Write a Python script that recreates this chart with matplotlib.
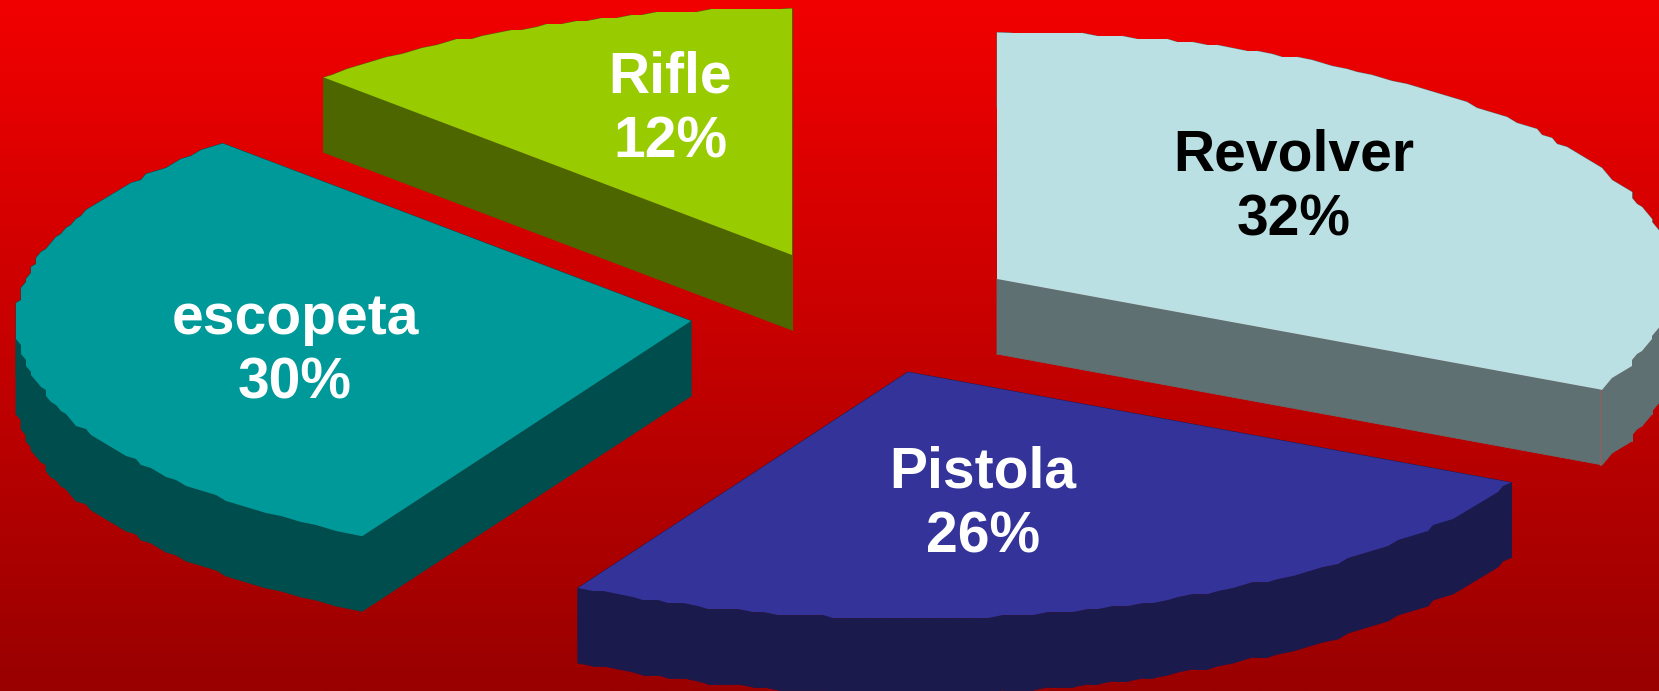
import numpy as np
import matplotlib
matplotlib.use("Agg")
import matplotlib.pyplot as plt
from matplotlib.collections import PolyCollection
from matplotlib.colors import LinearSegmentedColormap

categories = ["Revolver", "Pistola", "escopeta", "Rifle"]
# read from the slice edges, the labels show them rounded
shares = [32.4, 25.7, 29.7, 12.2]

# where each exploded slice has its tip, in picture pixels
tips = [(997, 279), (908, 372), (691, 321), (792, 255)]
top_colors = ["#BBE0E3", "#333399", "#009999", "#99CC00"]
side_colors = ["#5F7072", "#1A1A4D", "#004D4D", "#4D6600"]
text_colors = ["black", "white", "white", "white"]
label_pos = [(1294, 188), (983, 505), (295, 351), (670, 110)]

RX, RY = 675, 246.5
DEPTH = 75


def rim(tip, a0, a1):
    # the rim of the original is rough, so snap the points on a coarse grid
    ang = np.radians(np.arange(a0, a1, 1.2))
    ang = np.append(ang, np.radians(a1))
    x = RX * np.sin(ang)
    y = -RY * np.cos(ang)
    x[1:-1] = np.round(x[1:-1] / 5) * 5
    y[1:-1] = np.round(y[1:-1] / 3) * 3
    return tip[0] + x, tip[1] + y


fig = plt.figure(figsize=(16.59, 6.91), dpi=100)
ax = fig.add_axes([0, 0, 1, 1])
ax.set_xlim(0, 1659)
ax.set_ylim(691, 0)
ax.axis("off")

fond = LinearSegmentedColormap.from_list("fond", ["#F20000", "#990000"])
ax.imshow(np.linspace(0, 1, 256).reshape(-1, 1), cmap=fond, aspect="auto",
          extent=(0, 1659, 691, 0), zorder=0)

cumul = np.cumsum([0] + shares) / sum(shares) * 360
for i in range(len(categories)):
    rx, ry = rim(tips[i], cumul[i], cumul[i + 1])
    xs = np.concatenate([[tips[i][0]], rx])
    ys = np.concatenate([[tips[i][1]], ry])

    # side wall: every edge of the top pushed down by the depth
    quads = []
    for j in range(len(xs)):
        k = (j + 1) % len(xs)
        quads.append([(xs[j], ys[j]), (xs[k], ys[k]),
                      (xs[k], ys[k] + DEPTH), (xs[j], ys[j] + DEPTH)])
    ax.add_collection(PolyCollection(quads, facecolors=side_colors[i],
                                     edgecolors=side_colors[i], linewidths=0.6, zorder=2))
    ax.fill(xs, ys, color=top_colors[i], lw=0, zorder=3)

    # thin seam on the corner of the light slice
    if i == 0:
        ax.plot([xs[-1], xs[-1]], [ys[-1], ys[-1] + DEPTH], color="#A05A5A", lw=0.7, zorder=3)

    ax.text(label_pos[i][0], label_pos[i][1], f"{categories[i]}\n{shares[i]:.0f}%",
            color=text_colors[i], fontsize=41, fontweight="bold",
            family="Liberation Sans", ha="center", va="center",
            linespacing=1.25, zorder=4)

fig.savefig("out.png", dpi=100)
